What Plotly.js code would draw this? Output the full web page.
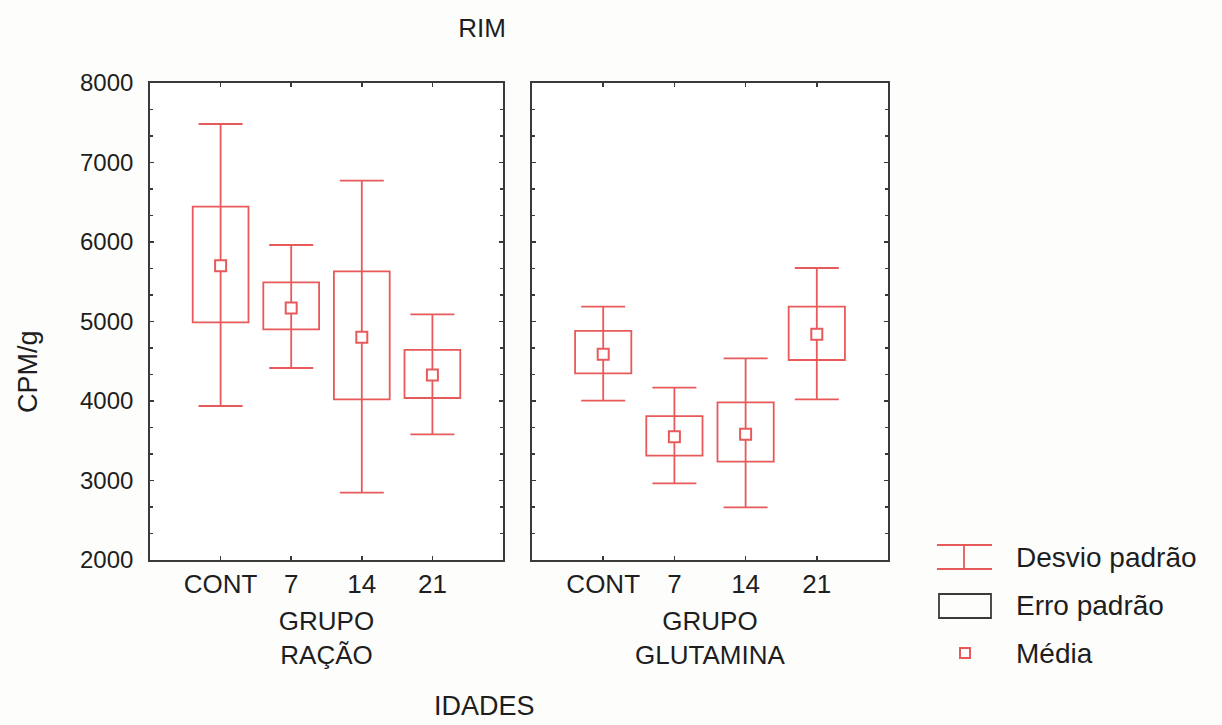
<!DOCTYPE html>
<html>
<head>
<meta charset="utf-8">
<script src="https://cdn.plot.ly/plotly-3.0.1.min.js"></script>
<style>html,body{margin:0;padding:0;background:#fdfdfb;}#chart{width:1222px;height:725px;}</style>
</head>
<body>
<div id="chart"></div>
<script>
// ---- data ----
const categories = ['CONT', '7', '14', '21'];

const racaoMean   = [5702, 5170, 4801, 4327];
const racaoSELow  = [4990, 4902, 4021, 4038];
const racaoSEHigh = [6445, 5493, 5631, 4642];
const racaoSDLow  = [3937, 4415, 2847, 3581];
const racaoSDHigh = [7484, 5962, 6771, 5090];

const glutMean   = [4587, 3551, 3581, 4839];
const glutSELow  = [4348, 3312, 3237, 4516];
const glutSEHigh = [4881, 3811, 3983, 5186];
const glutSDLow  = [4004, 2964, 2663, 4021];
const glutSDHigh = [5186, 4168, 4537, 5673];

const groupTitles = ['GRUPO<br>RAÇÃO', 'GRUPO<br>GLUTAMINA'];
const legendLabels = ['Desvio padrão', 'Erro padrão', 'Média'];

// ---- styling ----
const RED = '#e85a5a';
const FRAME = '#3a3a3a';
const TXT = '#1e1e1e';
const FONT = 'Liberation Sans, Arial, sans-serif';

function groupTraces(mean, seLo, seHi, sdLo, sdHi, xa, ya) {
  const box = {
    type: 'bar', x: categories, y: seHi.map((v, i) => v - seLo[i]), base: seLo,
    width: 0.79, xaxis: xa, yaxis: ya, showlegend: false, hoverinfo: 'skip',
    marker: {color: 'rgba(0,0,0,0)', line: {color: RED, width: 1.8}}
  };
  const pts = {
    type: 'scatter', mode: 'markers', x: categories, y: mean, xaxis: xa, yaxis: ya,
    showlegend: false,
    marker: {symbol: 'square', size: 11, color: '#ffffff', line: {color: RED, width: 2}},
    error_y: {type: 'data', symmetric: false,
      array: sdHi.map((v, i) => v - mean[i]),
      arrayminus: mean.map((v, i) => v - sdLo[i]),
      color: RED, thickness: 1.8, width: 22}
  };
  return [box, pts];
}

const traces = [
  ...groupTraces(racaoMean, racaoSELow, racaoSEHigh, racaoSDLow, racaoSDHigh, 'x', 'y'),
  ...groupTraces(glutMean, glutSELow, glutSEHigh, glutSDLow, glutSDHigh, 'x2', 'y2')
];

// plot-area pixel geometry
const L = 150, R = 888, T = 83, B = 560, W = 1222, H = 725;
const px = x => (x - L) / (R - L);
const py = y => (B - y) / (B - T);

const xaxisBase = {
  type: 'category', range: [-1, 4], showline: true, linecolor: FRAME, linewidth: 1.8,
  mirror: 'allticks', ticks: 'inside', ticklen: 4, tickcolor: FRAME, tickwidth: 1.6,
  showgrid: false, zeroline: false, fixedrange: true,
  tickfont: {family: FONT, size: 26, color: TXT}
};
const yaxisBase = {
  range: [2000, 8000], dtick: 1000, showline: true, linecolor: FRAME, linewidth: 1.8,
  mirror: 'allticks', ticks: 'inside', ticklen: 4, tickcolor: FRAME, tickwidth: 1.6,
  minor: {dtick: 1000 / 3, ticks: 'inside', ticklen: 3, tickcolor: FRAME, tickwidth: 1.3},
  showgrid: false, zeroline: false, fixedrange: true,
  tickfont: {family: FONT, size: 24, color: TXT}
};

const legendShapes = [
  // Desvio padrão icon (whisker)
  {type: 'line', xref: 'paper', yref: 'paper', x0: px(937), x1: px(992), y0: py(545), y1: py(545), line: {color: RED, width: 1.8}},
  {type: 'line', xref: 'paper', yref: 'paper', x0: px(937), x1: px(992), y0: py(569), y1: py(569), line: {color: RED, width: 1.8}},
  {type: 'line', xref: 'paper', yref: 'paper', x0: px(964), x1: px(964), y0: py(545), y1: py(569), line: {color: RED, width: 1.8}},
  // Erro padrão icon (box)
  {type: 'rect', xref: 'paper', yref: 'paper', x0: px(939), x1: px(991), y0: py(594), y1: py(618), line: {color: FRAME, width: 1.8}},
  // Média icon
  {type: 'rect', xref: 'paper', yref: 'paper', x0: px(960), x1: px(970), y0: py(648), y1: py(658), line: {color: RED, width: 2}, fillcolor: '#ffffff'}
];

const legendAnn = legendLabels.map((t, i) => ({
  text: t, xref: 'paper', yref: 'paper', x: px(1014), y: py([557, 605, 653][i]),
  xanchor: 'left', yanchor: 'middle', showarrow: false,
  font: {family: FONT, size: 28, color: TXT}
}));

const layout = {
  width: W, height: H,
  paper_bgcolor: '#fdfdfb', plot_bgcolor: '#ffffff',
  margin: {l: L, r: W - R, t: T, b: H - B},
  barmode: 'overlay', showlegend: false,
  font: {family: FONT, size: 26, color: TXT},
  title: {text: 'RIM', x: 482 / W, xanchor: 'center', y: 1 - 28 / H, yanchor: 'middle',
    font: {family: FONT, size: 26, color: TXT}},
  xaxis: Object.assign({}, xaxisBase, {domain: [0, px(503)], anchor: 'y',
    title: {text: groupTitles[0], standoff: 14, font: {family: FONT, size: 26, color: TXT}}}),
  xaxis2: Object.assign({}, xaxisBase, {domain: [px(532), 1], anchor: 'y2',
    title: {text: groupTitles[1], standoff: 14, font: {family: FONT, size: 26, color: TXT}}}),
  yaxis: Object.assign({}, yaxisBase, {anchor: 'x', ticklabelstandoff: 10}),
  yaxis2: Object.assign({}, yaxisBase, {anchor: 'x2', matches: 'y', showticklabels: false}),
  shapes: legendShapes,
  annotations: [
    {text: 'CPM/g', xref: 'paper', yref: 'paper', x: px(28), y: py(371),
     xanchor: 'center', yanchor: 'middle', textangle: -90, showarrow: false,
     font: {family: FONT, size: 27, color: TXT}},
    {text: 'IDADES', xref: 'paper', yref: 'paper', x: px(484), y: py(706),
     xanchor: 'center', yanchor: 'middle', showarrow: false,
     font: {family: FONT, size: 27, color: TXT}},
    ...legendAnn
  ]
};

Plotly.newPlot('chart', traces, layout, {displayModeBar: false, staticPlot: true});
</script>
</body>
</html>
